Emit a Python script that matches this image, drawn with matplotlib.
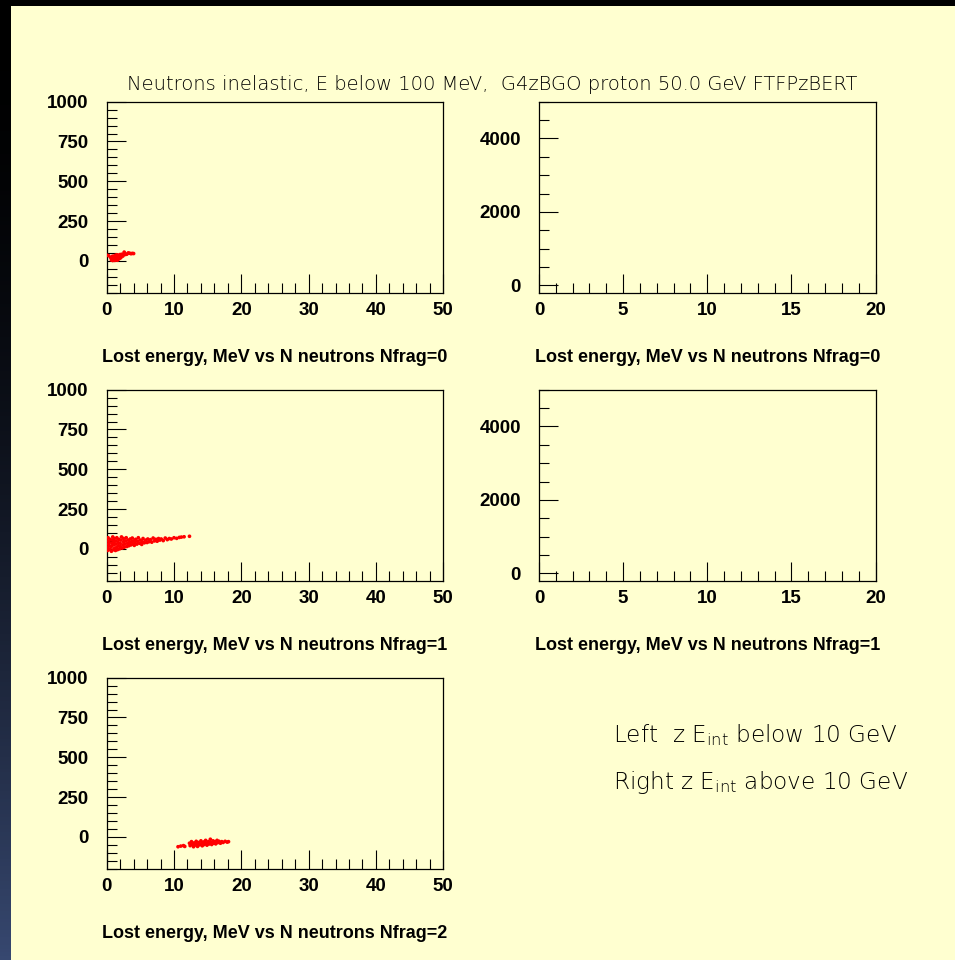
import numpy as np
import matplotlib
matplotlib.use("Agg")
import matplotlib.pyplot as plt
from matplotlib.patches import Rectangle
from matplotlib.ticker import MultipleLocator

# ---- data ----
title_text = "Neutrons inelastic, E below 100 MeV,  G4zBGO proton 50.0 GeV FTFPzBERT"
xlabels = [
    "Lost energy, MeV vs N neutrons Nfrag=0",
    "Lost energy, MeV vs N neutrons Nfrag=1",
    "Lost energy, MeV vs N neutrons Nfrag=2",
]
note_lines = ["Left  z E$_{int}$ below 10 GeV", "Right z E$_{int}$ above 10 GeV"]

# Nfrag=0, E_int below 10 GeV
nf0_x = [0.1, 0.3, 0.6, 0.7, 0.8, 0.8, 0.9, 1.0, 1.0, 1.1, 1.1, 1.2, 1.2, 1.3, 1.3,
         1.4, 1.4, 1.5, 1.5, 1.6, 1.6, 1.7, 1.7, 1.8, 1.8, 1.9, 2.0, 2.0, 2.1, 2.2,
         2.3, 2.4, 2.5, 2.6, 2.7, 2.8, 3.0, 3.2, 3.4, 3.6, 3.8, 4.0]
nf0_y = [35, 32, 20, 5, 28, 12, 2, 18, 30, 8, 25, 3, 15, 22, 35,
         6, 28, 12, 38, 4, 20, 30, 10, 25, 36, 15, 28, 40, 20, 35,
         42, 30, 38, 55, 45, 40, 42, 50, 48, 45, 47, 46]

# Nfrag=1, E_int below 10 GeV
nf1_x = [0.1, 0.1, 0.2, 0.1, 0.2, 0.3, 0.4, 0.4, 0.5, 0.5, 0.7, 0.7, 0.8, 0.8, 0.9,
         1.0, 1.0, 1.1, 1.1, 1.2, 1.3, 1.3, 1.4, 1.5, 1.5, 1.6, 1.7, 1.7, 1.8, 1.9,
         2.0, 2.0, 2.1, 2.2, 2.3, 2.4, 2.5, 2.5, 2.6, 2.7, 2.8, 2.9, 3.0, 3.1, 3.2,
         3.3, 3.4, 3.5, 3.6, 3.7, 3.8, 3.9, 4.0, 4.1, 4.2, 4.3, 4.5, 4.6, 4.7, 4.9,
         5.0, 5.2, 5.3, 5.4, 5.6, 5.8, 6.0, 6.1, 6.3, 6.5, 6.7, 6.9, 7.1, 7.3, 7.5,
         7.7, 7.9, 8.1, 8.4, 8.7, 9.0, 9.3, 9.6, 10.0, 10.4, 10.8, 11.1, 11.5, 12.3]
nf1_y = [-10, 10, 30, 50, 70, -5, 20, 40, 60, 0, -15, 15, 35, 55, 75,
         -5, 25, 45, 65, 5, -10, 30, 50, 70, 10, -5, 20, 40, 60, 0,
         15, 35, 55, 75, 5, 25, 45, 65, 10, 30, 50, 70, 15, 35, 55,
         20, 40, 62, 25, 45, 68, 30, 50, 22, 40, 60, 30, 48, 70, 35,
         55, 28, 45, 65, 38, 55, 40, 62, 45, 58, 42, 68, 50, 60, 48,
         65, 55, 62, 52, 68, 58, 65, 62, 70, 66, 72, 74, 76, 79]

# Nfrag=2, E_int below 10 GeV
nf2_x = [10.6, 11.0, 11.4, 11.6, 12.3, 12.4, 12.6, 12.7, 12.9, 13.0, 13.1, 13.3, 13.4,
         13.5, 13.7, 13.8, 14.0, 14.1, 14.2, 14.4, 14.5, 14.7, 14.8, 14.9, 15.1, 15.2,
         15.4, 15.5, 15.6, 15.8, 15.9, 16.1, 16.2, 16.4, 16.5, 16.7, 16.9, 17.1, 17.3,
         17.6, 17.9, 18.1]
nf2_y = [-62, -58, -55, -60, -40, -55, -30, -48, -62, -38, -52, -28, -45,
         -60, -35, -50, -25, -42, -56, -32, -48, -22, -40, -52, -30, -45,
         -15, -35, -48, -25, -40, -30, -44, -22, -36, -28, -40, -30, -35,
         -28, -33, -30]

# E_int above 10 GeV: no entries
empty_x = []
empty_y = []

# ---- figure ----
W, H = 955, 960
fig = plt.figure(figsize=(W / 100, H / 100), dpi=100)
plt.rcParams["mathtext.default"] = "regular"

# dark frame: black at the top fading into dark blue at the bottom
bg = fig.add_axes([0, 0, 1, 1], zorder=-10)
t = np.linspace(0, 1, 256)[:, None] ** 1.8
grad = np.dstack([t * 55 / 255, t * 72 / 255, t * 112 / 255])
bg.imshow(grad, extent=[0, 1, 0, 1], aspect="auto", origin="upper")
bg.add_patch(Rectangle((11 / W, 0), 1, 1 - 6 / H, transform=bg.transAxes,
                       facecolor="#ffffd0", edgecolor="none"))
bg.set_xlim(0, 1)
bg.set_ylim(0, 1)
bg.axis("off")

tick_font = dict(family="Liberation Sans", weight="bold", size=13.5)
thin_font = dict(family=["DejaVu Sans"], weight="light")

left_x0, right_x0 = 106.7 / W, 539 / W
ax_w = 336.5 / W
ax_h = 191 / H
row_bottoms = [1 - 292.7 / H, 1 - 580.7 / H, 1 - 868.7 / H]


def make_panel(x0, y0, xlim, ylim, xmaj, xmin, ymaj, ymin, label, xs, ys):
    ax = fig.add_axes([x0, y0, ax_w, ax_h])
    ax.set_facecolor("none")
    ax.set_xlim(*xlim)
    ax.set_ylim(*ylim)
    ax.xaxis.set_major_locator(MultipleLocator(xmaj))
    ax.xaxis.set_minor_locator(MultipleLocator(xmin))
    ax.yaxis.set_major_locator(MultipleLocator(ymaj))
    ax.yaxis.set_minor_locator(MultipleLocator(ymin))
    ax.tick_params(which="both", direction="in", top=False, right=False, width=0.8)
    ax.tick_params(which="major", length=14)
    ax.tick_params(which="minor", length=7)
    ax.tick_params(axis="x", pad=7)
    ax.tick_params(axis="y", pad=13)
    for lab in ax.get_xticklabels() + ax.get_yticklabels():
        lab.set_fontproperties(matplotlib.font_manager.FontProperties(**tick_font))
    for sp in ax.spines.values():
        sp.set_linewidth(0.9)
    ax.scatter(xs, ys, s=7, color="#ff0000", edgecolors="none", zorder=3)
    ax.text(0.5, -0.34, label, transform=ax.transAxes, ha="center", va="center",
            fontfamily="Liberation Sans", fontweight="bold", fontsize=13)
    return ax


left_data = [(nf0_x, nf0_y), (nf1_x, nf1_y), (nf2_x, nf2_y)]
for i, (xs, ys) in enumerate(left_data):
    make_panel(left_x0, row_bottoms[i], (0, 50), (-200, 1000), 10, 2, 250, 50,
               xlabels[i], xs, ys)
for i in range(2):
    make_panel(right_x0, row_bottoms[i], (0, 20), (-200, 5000), 5, 1, 2000, 500,
               xlabels[i], empty_x, empty_y)

fig.text(492 / W, 1 - 85 / H, title_text, ha="center", va="center",
         fontsize=14, color="black", **thin_font)
for j, line in enumerate(note_lines):
    fig.text(613 / W, 1 - (735 + 47 * j) / H, line, ha="left", va="center",
             fontsize=16.7, color="black", **thin_font)

fig.savefig("out.png", dpi=100)
